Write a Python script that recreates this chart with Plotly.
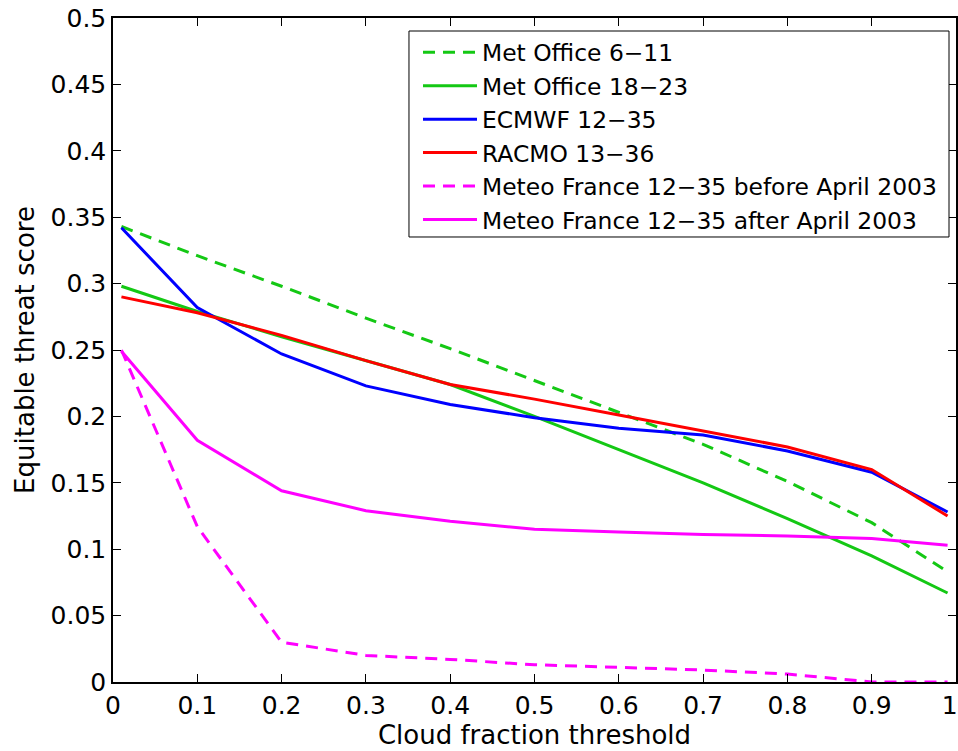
import plotly.graph_objects as go

x = [0.01, 0.1, 0.2, 0.3, 0.4, 0.5, 0.6, 0.7, 0.8, 0.9, 0.99]

met_6_11 = [0.343, 0.321, 0.298, 0.274, 0.251, 0.227, 0.203, 0.179, 0.151, 0.120, 0.083]
met_18_23 = [0.298, 0.279, 0.260, 0.242, 0.224, 0.200, 0.175, 0.150, 0.123, 0.095, 0.067]
ecmwf = [0.342, 0.282, 0.247, 0.223, 0.209, 0.199, 0.191, 0.186, 0.174, 0.158, 0.128]
racmo = [0.290, 0.278, 0.261, 0.242, 0.224, 0.213, 0.201, 0.189, 0.177, 0.160, 0.125]
mf_before = [0.250, 0.117, 0.030, 0.020, 0.017, 0.013, 0.011, 0.009, 0.006, 0.0, 0.0]
mf_after = [0.249, 0.182, 0.144, 0.129, 0.121, 0.115, 0.113, 0.111, 0.110, 0.108, 0.103]

names = ["Met Office 6\u221211", "Met Office 18\u221223", "ECMWF 12\u221235",
         "RACMO 13\u221236", "Meteo France 12\u221235 before April 2003",
         "Meteo France 12\u221235 after April 2003"]

x_ticks = [0, 0.1, 0.2, 0.3, 0.4, 0.5, 0.6, 0.7, 0.8, 0.9, 1.0]
x_ticktext = ["0", "0.1", "0.2", "0.3", "0.4", "0.5", "0.6", "0.7", "0.8", "0.9", "1\u2002"]
y_ticks = [0, 0.05, 0.1, 0.15, 0.2, 0.25, 0.3, 0.35, 0.4, 0.45, 0.5]
y_ticktext = ["0", "0.05", "0.1", "0.15", "0.2", "0.25", "0.3", "0.35", "0.4", "0.45", "0.5"]

GREEN = "rgb(20,200,20)"
series = [
    (met_6_11, GREEN, "12px,8px"),
    (met_18_23, GREEN, "solid"),
    (ecmwf, "rgb(0,0,255)", "solid"),
    (racmo, "rgb(255,0,0)", "solid"),
    (mf_before, "rgb(255,0,255)", "12px,8px"),
    (mf_after, "rgb(255,0,255)", "solid"),
]

fig = go.Figure()
for (ys, col, dash), nm in zip(series, names):
    fig.add_trace(go.Scatter(x=x, y=ys, mode="lines", name=nm,
                             line=dict(color=col, width=3, dash=dash)))

FONT = "DejaVu Sans"
fig.update_layout(
    width=958, height=751,
    margin=dict(l=113, r=2, t=18, b=69),
    paper_bgcolor="white", plot_bgcolor="white",
    font=dict(family=FONT, size=25, color="black"),
    showlegend=True,
    legend=dict(x=0.3618, y=0.981, xanchor="left", yanchor="top",
                bgcolor="rgba(0,0,0,0)", borderwidth=0,
                font=dict(family=FONT, size=23.4, color="black"),
                itemwidth=54),
    shapes=[dict(type="rect", xref="paper", yref="paper",
                 x0=0.3511, x1=0.9917, y0=0.6702, y1=0.9804,
                 fillcolor="white", line=dict(color="black", width=1), layer="above")],
    xaxis=dict(range=[0, 1], tickmode="array", tickvals=x_ticks, ticktext=x_ticktext,
               ticks="inside", ticklen=8, tickwidth=1, tickcolor="black",
               ticklabeloverflow="allow", automargin=False,
               showline=True, linecolor="black", linewidth=1.5, mirror="ticks",
               showgrid=False, zeroline=False,
               title=dict(text="Cloud fraction threshold", font=dict(size=26), standoff=6)),
    yaxis=dict(range=[0, 0.5], tickmode="array", tickvals=y_ticks, ticktext=y_ticktext,
               ticks="inside", ticklen=8, tickwidth=1, tickcolor="black",
               automargin=False,
               showline=True, linecolor="black", linewidth=1.5, mirror="ticks",
               showgrid=False, zeroline=False,
               title=dict(text="Equitable threat score", font=dict(size=26), standoff=8)),
)

fig.write_html("out.html")
